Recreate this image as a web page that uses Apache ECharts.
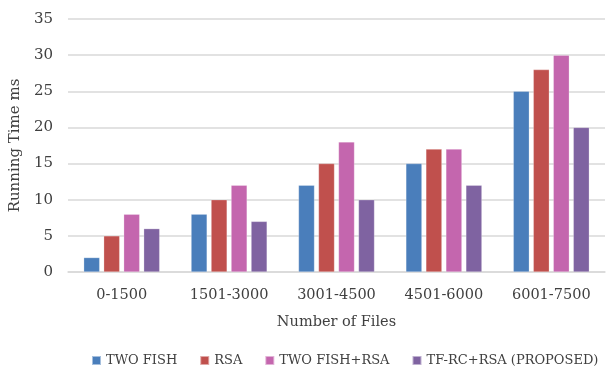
<!DOCTYPE html>
<html>
<head>
<meta charset="utf-8">
<script src="https://cdn.jsdelivr.net/npm/echarts@6/dist/echarts.min.js"></script>
<style>
  html, body { margin: 0; padding: 0; background: #fff; }
  #chart { width: 611px; height: 366px; }
</style>
</head>
<body>
<div id="chart"></div>
<script>
// Running time per file-count range for each encryption scheme
const categories = ['0-1500', '1501-3000', '3001-4500', '4501-6000', '6001-7500'];
const twoFish = [2, 8, 12, 15, 25];
const rsa = [5, 10, 15, 17, 28];
const twoFishRsa = [8, 12, 18, 17, 30];
const tfRcRsa = [6, 7, 10, 12, 20];
const seriesNames = ['TWO FISH', 'RSA', 'TWO FISH+RSA', 'TF-RC+RSA (PROPOSED)'];
const yTicks = { min: 0, max: 35, interval: 5 };

const FONT = 'DejaVu Serif';
const TEXT = '#404040';
const colors = ['#4a7ebb', '#c0504d', '#c466ae', '#7f63a1'];
const seriesData = [twoFish, rsa, twoFishRsa, tfRcRsa];

const chart = echarts.init(document.getElementById('chart'), null, { renderer: 'canvas' });
chart.setOption({
  animation: false,
  color: colors,
  textStyle: { fontFamily: FONT },
  grid: { left: 65, right: 6, top: 19, bottom: 94, containLabel: false },
  legend: {
    top: 349,
    left: 86,
    width: 520,
    itemWidth: 9,
    itemHeight: 9,
    itemGap: 22,
    icon: 'rect',
    textStyle: { fontFamily: FONT, fontSize: 13, color: TEXT },
    data: seriesNames
  },
  xAxis: {
    type: 'category',
    data: categories,
    name: 'Number of Files',
    nameLocation: 'middle',
    nameGap: 43,
    nameTextStyle: { fontFamily: FONT, fontSize: 14.5, color: TEXT },
    axisLine: { lineStyle: { color: '#d9d9d9', width: 1.5 } },
    axisTick: { show: false },
    axisLabel: { fontFamily: FONT, fontSize: 14.5, color: TEXT, margin: 16 }
  },
  yAxis: {
    type: 'value',
    min: yTicks.min,
    max: yTicks.max,
    interval: yTicks.interval,
    name: 'Running Time ms',
    nameLocation: 'middle',
    nameGap: 38,
    nameTextStyle: { fontFamily: FONT, fontSize: 15, color: TEXT },
    axisLine: { show: false },
    axisTick: { show: false },
    axisLabel: { fontFamily: FONT, fontSize: 15, color: TEXT, margin: 15 },
    splitLine: { lineStyle: { color: '#d9d9d9', width: 1.5 } }
  },
  series: seriesNames.map((name, i) => ({
    name: name,
    type: 'bar',
    data: seriesData[i],
    barWidth: 16,
    barGap: '25%',
    itemStyle: { color: colors[i], borderColor: 'rgba(255,255,255,0.5)', borderWidth: 0.5 }
  }))
});
</script>
</body>
</html>
